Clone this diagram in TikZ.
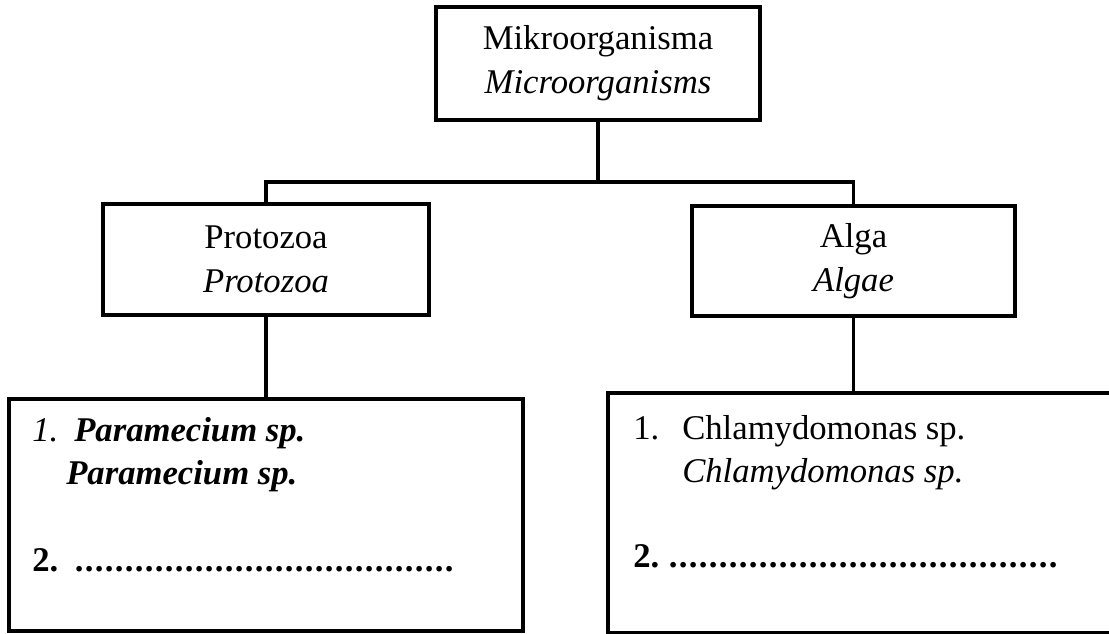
\documentclass[tikz,border=0pt]{standalone}
\usepackage{fontspec}
\setmainfont{Liberation Serif}
\usepackage{tikz}
\usetikzlibrary{positioning, calc}

\tikzset{
  kotak/.style={draw, line width=2.8pt, inner sep=0pt, align=center,
    font=\fontsize{26}{33}\selectfont},
  garis/.style={line width=2.8pt},
  isian/.style={anchor=base west, inner sep=0pt,
    font=\fontsize{26}{33}\selectfont},
}
\newcommand{\titik}[1]{\hbox to #1{\leaders\hbox to 7.5pt{\hss\textbf{.}\hss}\hfill}}

\begin{document}
\begin{tikzpicture}[x=0.75pt, y=-0.75pt]
    \useasboundingbox (0,0) rectangle (1109,634);
    \clip (0,0) rectangle (1109,634);
    % Kotak utama
    \node[kotak, minimum width=243pt, minimum height=85pt] (mikro) at (598,63.5)
        {Mikroorganisma\\\textit{Microorganisms}};
    % Cabang
    \node[kotak, minimum width=244.5pt, minimum height=83pt] (protozoa) at (266,259.5)
        {Protozoa\\\textit{Protozoa}};
    \node[kotak, minimum width=242pt, minimum height=83pt] (alga) at (853.5,261)
        {Alga\\\textit{Algae}};
    % Kotak isian (kanan terpotong di tepi)
    \node[kotak, minimum width=385.5pt, minimum height=174pt] (daftar1) at (266,515) {};
    \node[kotak, draw=none, minimum width=420pt, minimum height=177pt] (daftar2) at (890,513) {};
    \draw[garis] (daftar2.north east) -- (daftar2.north west)
        -- (daftar2.south west) -- (daftar2.south east);
    % Penghubung
    \coordinate (cabang) at (598,182);
    \draw[garis] (mikro.south) -- (cabang);
    \draw[garis] (protozoa.north) |- (cabang) -| (alga.north);
    \draw[garis] (protozoa.south) -- (daftar1.north);
    \draw[garis] (alga.south) -- (alga.south |- daftar2.north);
    % Isi kiri
    \node[isian] (p1) at (32,441) {\textit{1.}};
    \node[isian] (p1a) at (74,441) {\textbf{\textit{Paramecium sp.}}};
    \node[isian] (p1b) at (66,484) {\textbf{\textit{Paramecium sp.}}};
    \node[isian] (p2) at (32,571) {\textbf{2.}};
    \node[isian] (p2a) at (74,571) {\titik{286pt}};
    % Isi kanan
    \node[isian] (c1) at (633,439) {1.};
    \node[isian] (c1a) at (682,439) {Chlamydomonas sp.};
    \node[isian] (c1b) at (682,482) {\textit{Chlamydomonas sp.}};
    \node[isian] (c2) at (633,567) {\textbf{2.}};
    \node[isian] (c2a) at (668,567) {\titik{297pt}};
\end{tikzpicture}
\end{document}
